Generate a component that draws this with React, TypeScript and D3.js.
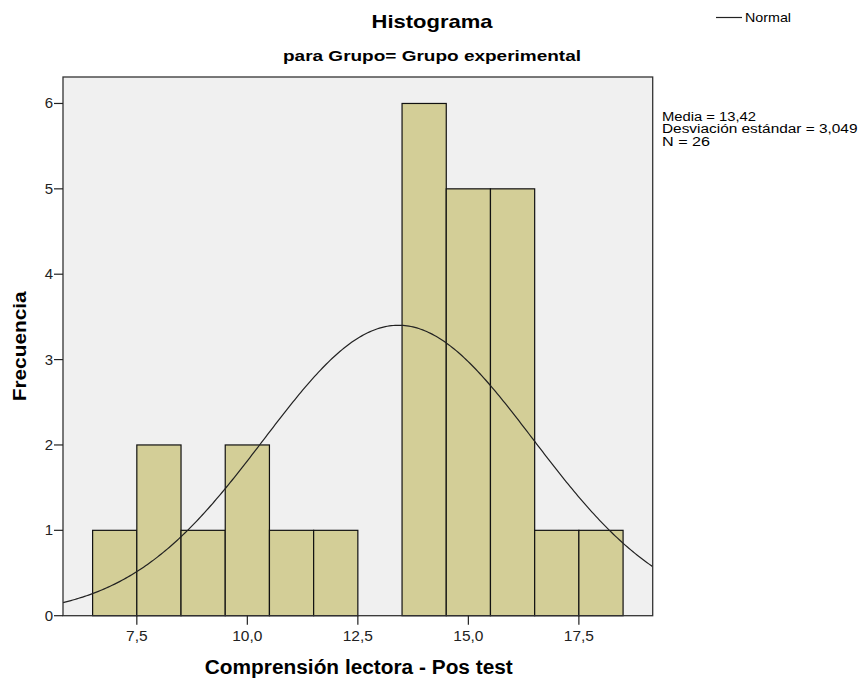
import React from 'react';
import * as d3 from 'd3';

// histogram bins (width 1) and counts
const binStarts = [6.5, 7.5, 8.5, 9.5, 10.5, 11.5, 12.5, 13.5, 14.5, 15.5, 16.5, 17.5];
const counts = [1, 2, 1, 2, 1, 1, 0, 6, 5, 5, 1, 1];
const binWidth = 1;
const xTicks = [7.5, 10.0, 12.5, 15.0, 17.5];
const yTicks = [0, 1, 2, 3, 4, 5, 6];
const mean = 13.42;
const sd = 3.049;
const n = 26;

const W = 861;
const H = 681;
const left = 63;
const right = 652.7;
const top = 77;
const bottom = 615.7;

const FONT = '"Liberation Sans", Arial, sans-serif';
const comma = (v: number) => d3.format('.1f')(v).replace('.', ',');

const App = () => {
  const x = d3.scaleLinear().domain([5.83, 19.17]).range([left, right]);
  const y = d3.scaleLinear().domain([0, 6.31]).range([bottom, top]);

  const bins = binStarts.map((b, i) => ({ x0: b, x1: b + binWidth, count: counts[i] }));

  // fitted normal curve scaled to counts (N * bin width * density)
  const curveXs = d3.range(0, 301).map((i) => 5.83 + (i / 300) * (19.17 - 5.83));
  const density = (v: number) =>
    (n * binWidth) / (sd * Math.sqrt(2 * Math.PI)) * Math.exp(-0.5 * ((v - mean) / sd) ** 2);
  const line = d3.line<number>()
    .x((d) => x(d))
    .y((d) => y(density(d)));

  return (
    <svg width={W} height={H} style={{ position: 'absolute', left: 0, top: 0, background: '#fff' }}
      fontFamily={FONT}>
      <defs>
        <clipPath id="plot">
          <rect x={left} y={top} width={right - left} height={bottom - top} />
        </clipPath>
      </defs>

      {/* titles */}
      <text x={432} y={28} textAnchor="middle" fontSize={18.5} fontWeight="bold" fill="#000"
        textLength={121} lengthAdjust="spacingAndGlyphs">Histograma</text>
      <text x={432} y={61} textAnchor="middle" fontSize={15.5} fontWeight="bold" fill="#000"
        textLength={298} lengthAdjust="spacingAndGlyphs">para Grupo= Grupo experimental</text>

      {/* legend */}
      <line x1={716} x2={742} y1={17.5} y2={17.5} stroke="#222" strokeWidth={1.2} />
      <text x={745} y={22} fontSize={13} fill="#000" textLength={46} lengthAdjust="spacingAndGlyphs">Normal</text>

      {/* plot background */}
      <rect x={left} y={top} width={right - left} height={bottom - top} fill="#f0f0f0" />

      {/* bars */}
      {bins.filter((b) => b.count > 0).map((b, i) => (
        <rect key={i} x={x(b.x0)} y={y(b.count)} width={x(b.x1) - x(b.x0)} height={y(0) - y(b.count)}
          fill="#d3ce97" stroke="#111" strokeWidth={1.2} />
      ))}

      {/* normal curve */}
      <path d={line(curveXs) ?? ''} fill="none" stroke="#222" strokeWidth={1.2} clipPath="url(#plot)" />

      {/* frame */}
      <rect x={left} y={top} width={right - left} height={bottom - top} fill="none" stroke="#333" strokeWidth={1.3} />

      {/* y axis */}
      {yTicks.map((t) => (
        <g key={t}>
          <line x1={left - 9} x2={left} y1={y(t)} y2={y(t)} stroke="#222" strokeWidth={1.2} />
          <text x={left - 10} y={y(t) + 5} textAnchor="end" fontSize={15} fill="#222">{t}</text>
        </g>
      ))}

      {/* x axis */}
      {xTicks.map((t) => (
        <g key={t}>
          <line x1={x(t)} x2={x(t)} y1={bottom} y2={bottom + 9} stroke="#222" strokeWidth={1.2} />
          <text x={x(t)} y={641} textAnchor="middle" fontSize={15.5} fill="#222">{comma(t)}</text>
        </g>
      ))}

      {/* axis titles */}
      <text x={358.8} y={673.5} textAnchor="middle" fontSize={19.5} fontWeight="bold" fill="#000"
        textLength={308} lengthAdjust="spacingAndGlyphs">Comprensión lectora - Pos test</text>
      <text transform={`translate(26,${(top + bottom) / 2}) rotate(-90)`} textAnchor="middle" fontSize={18.5}
        fontWeight="bold" fill="#000" textLength={110} lengthAdjust="spacingAndGlyphs">Frecuencia</text>

      {/* stats */}
      <g fontSize={12.5} fill="#000">
        <text x={662} y={120.5} textLength={94} lengthAdjust="spacingAndGlyphs">Media = 13,42</text>
        <text x={662} y={133} textLength={195.5} lengthAdjust="spacingAndGlyphs">Desviación estándar = 3,049</text>
        <text x={662} y={145.5} textLength={48} lengthAdjust="spacingAndGlyphs">N = 26</text>
      </g>
    </svg>
  );
};

export default App;
